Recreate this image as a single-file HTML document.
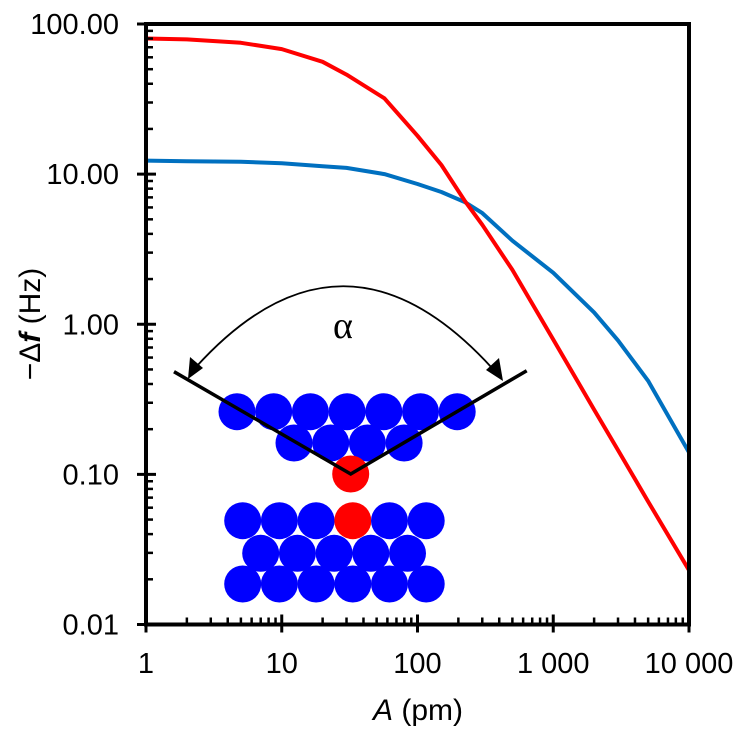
<!DOCTYPE html>
<html><head><meta charset="utf-8"><style>
html,body{margin:0;padding:0;background:#fff;}
svg{display:block;font-family:"Liberation Sans",Arial,sans-serif;}
</style></head><body>
<svg id="chart" width="747" height="737" viewBox="0 0 747 737" xmlns="http://www.w3.org/2000/svg">
<g id="grid"></g>
<g id="series"></g>
<g id="inset"></g>
<rect x="146" y="24" width="543" height="600.5" fill="none" stroke="#000" stroke-width="4"/>
<g id="ticks"></g>
<text x="418" y="720" font-size="30" text-anchor="middle"><tspan font-style="italic">A</tspan> (pm)</text>
<text transform="translate(40,324) rotate(-90)" font-size="30" text-anchor="middle">−Δ<tspan font-style="italic" font-weight="bold">f</tspan> (Hz)</text>
</svg>
<script>
const xTicks=[1,10,100,1000,10000];
const xTickLabels=["1","10","100","1 000","10 000"];
const yTicks=[0.01,0.1,1,10,100];
const yTickLabels=["0.01","0.10","1.00","10.00","100.00"];
const amplitudes=[1,2,5,10,20,30,57,100,150,224,300,500,1000,2000,3000,5000,10000];
const redValues=[80,79,75,68,56,46,32,18,11.5,6.6,4.6,2.3,0.79,0.27,0.145,0.066,0.023];
const blueValues=[12.3,12.2,12.1,11.8,11.3,11.0,10.0,8.6,7.6,6.5,5.5,3.6,2.2,1.2,0.78,0.42,0.14];
const X0=146,X1=689,Y0=624.5,Y1=24;
function xs(v){return X0+(Math.log10(v)-0)/4*(X1-X0);}
function ys(v){return Y0-(Math.log10(v)+2)/4*(Y0-Y1);}
const NS="http://www.w3.org/2000/svg";
function mk(tag,attrs,parent){const e=document.createElementNS(NS,tag);for(const k in attrs)e.setAttribute(k,attrs[k]);parent.appendChild(e);return e;}
const ticks=document.getElementById('ticks');
xTicks.forEach((t,i)=>{
  const x=xs(t);
  const l=mk('line',{x1:x,x2:x,y1:Y0-10,y2:Y0+8,stroke:'#000','stroke-width':3},ticks);
  
  
  const tx=mk('text',{x:x,y:673,'font-size':29,'text-anchor':'middle'},ticks);
  tx.textContent=xTickLabels[i];
  
  
  if(i<xTicks.length-1){for(let m=2;m<10;m++){const xm=xs(t*m);
    const ml=mk('line',{x1:xm,x2:xm,y1:Y0-7,y2:Y0,stroke:'#000','stroke-width':2.5},ticks);
    
    }}
});
yTicks.forEach((t,i)=>{
  const y=ys(t);
  const l=mk('line',{x1:X0-9,x2:X0+10,y1:y,y2:y,stroke:'#000','stroke-width':3},ticks);
  
  
  const tx=mk('text',{x:119,y:y+10,'font-size':29,'text-anchor':'end'},ticks);
  tx.textContent=yTickLabels[i];
  
  
  if(i<yTicks.length-1){for(let m=2;m<10;m++){const ym=ys(t*m);
    const ml=mk('line',{x1:X0,x2:X0+7,y1:ym,y2:ym,stroke:'#000','stroke-width':2.5},ticks);
    
    }}
});
const series=document.getElementById('series');
function line(vals,color,name){
  const d=amplitudes.map((a,i)=>(i?'L':'M')+xs(a).toFixed(1)+','+ys(vals[i]).toFixed(1)).join(' ');
  const p=mk('path',{d:d,fill:'none',stroke:color,'stroke-width':4,'stroke-linejoin':'round'},series);
  
  
}
line(blueValues,'#0070c0','blue-series-line');
line(redValues,'#ff0000','red-series-line');
const inset=document.getElementById('inset');
const R=18.5,S=36.7;
function atom(x,y,c){const a=mk('circle',{cx:x,cy:y,r:R,fill:c},inset);
  
  }
for(let i=0;i<7;i++)atom(237+i*S,411.7,'#0000ff');
for(let i=0;i<4;i++)atom(294+i*S,443,'#0000ff');
atom(350.7,474,'#ff0000');
for(let i=0;i<6;i++)atom(242.7+i*S,520.7,i===3?'#ff0000':'#0000ff');
for(let i=0;i<5;i++)atom(260.7+i*S,553.3,'#0000ff');
for(let i=0;i<6;i++)atom(242.7+i*S,584,'#0000ff');
const v=mk('polyline',{points:'174,371.7 350.7,474 526.7,370.7',fill:'none',stroke:'#000','stroke-width':3.5},inset);


const arc=mk('path',{d:'M196,367 Q343,205 492,368',fill:'none',stroke:'#000','stroke-width':1.8},inset);


const ah1=mk('polygon',{points:'188,379 190,357 203,368',fill:'#000'},inset);


const ah2=mk('polygon',{points:'503,381 486,370 499,358',fill:'#000'},inset);


const al=mk('text',{x:343,y:338,'font-size':38,'text-anchor':'middle','font-family':'"Liberation Serif",serif'},inset);
al.textContent='α';


</script>
</body></html>
